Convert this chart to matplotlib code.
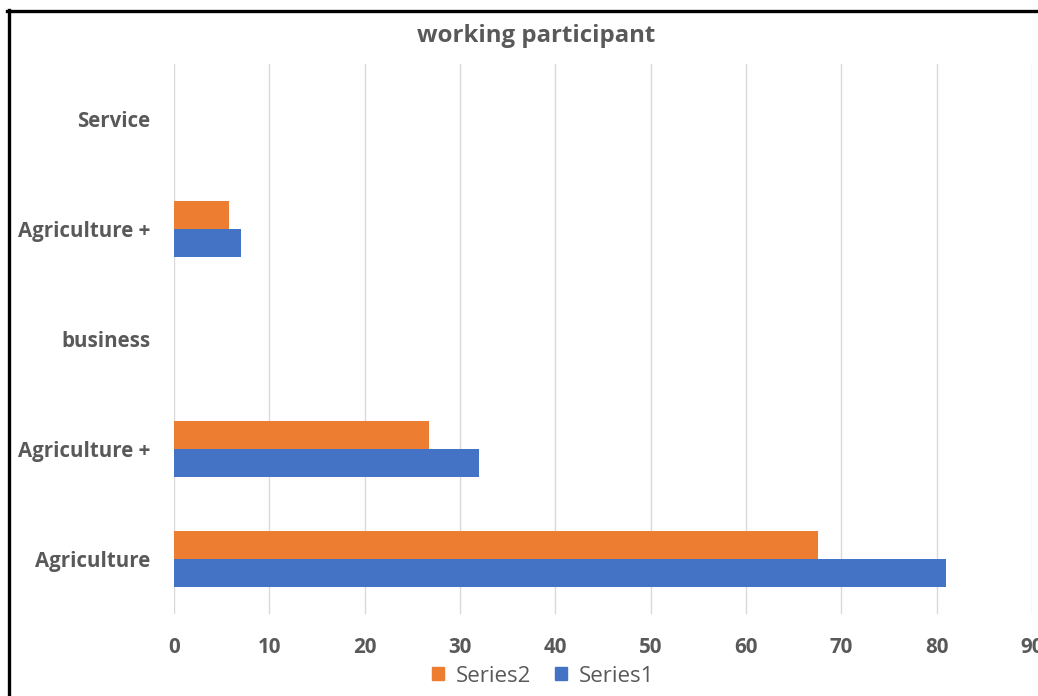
import matplotlib
matplotlib.use("Agg")
import matplotlib.pyplot as plt
import numpy as np
from matplotlib.lines import Line2D
from matplotlib.patches import Patch

# Data
categories = ["Agriculture", "Agriculture +", "business", "Agriculture +", "Service"]
series1 = [81, 32, 0, 7, 0]
series2 = [67.5, 26.7, 0, 5.8, 0]
x_ticks = [0, 10, 20, 30, 40, 50, 60, 70, 80, 90]

BLUE = "#4472C4"
ORANGE = "#ED7D31"
TEXT = "#595959"
GRID = "#D9D9D9"

plt.rcParams["font.family"] = ["Open Sans", "DejaVu Sans"]

fig = plt.figure(figsize=(10.38, 6.96), dpi=100)
ax = fig.add_axes([174 / 1038, 1 - 614 / 696, (1032 - 174) / 1038, (614 - 64) / 696])

y = np.arange(len(categories))
h = 0.255
ax.barh(y - h / 2, series1, height=h, color=BLUE, label="Series1", zorder=3)
ax.barh(y + h / 2, series2, height=h, color=ORANGE, label="Series2", zorder=3)

ax.set_xlim(0, 90)
ax.set_ylim(-0.5, len(categories) - 0.5)
ax.set_xticks(x_ticks)
ax.set_xticklabels([str(t) for t in x_ticks], fontsize=14.8, fontweight="bold", color=TEXT)
ax.set_yticks(y)
ax.set_yticklabels(categories, fontsize=14.8, fontweight="bold", color=TEXT)
ax.tick_params(axis="both", length=0)
ax.tick_params(axis="x", pad=16.5)
ax.tick_params(axis="y", pad=17)
ax.grid(axis="x", color=GRID, linewidth=1, zorder=0)
for s in ax.spines.values():
    s.set_visible(False)

fig.text(536 / 1038, 1 - 36 / 696, "working participant", ha="center", va="center",
         fontsize=17.3, fontweight="bold", color=TEXT)

handles = [Patch(color=ORANGE, label="Series2"), Patch(color=BLUE, label="Series1")]
fig.legend(handles=handles, loc="center", bbox_to_anchor=(543 / 1038, 1 - 676 / 696),
           ncol=2, frameon=False, fontsize=16, labelcolor=TEXT,
           handlelength=0.55, handleheight=0.55, handletextpad=0.5, columnspacing=1.1)

# Frame lines along the top and left edges
fig.add_artist(Line2D([7 / 1038, 1], [1 - 11 / 696, 1 - 11 / 696], color="black", linewidth=2.4,
                      transform=fig.transFigure))
fig.add_artist(Line2D([8.5 / 1038, 8.5 / 1038], [0, 1 - 10 / 696], color="black", linewidth=2.4,
                      transform=fig.transFigure))

fig.savefig("out.png", dpi=100)
